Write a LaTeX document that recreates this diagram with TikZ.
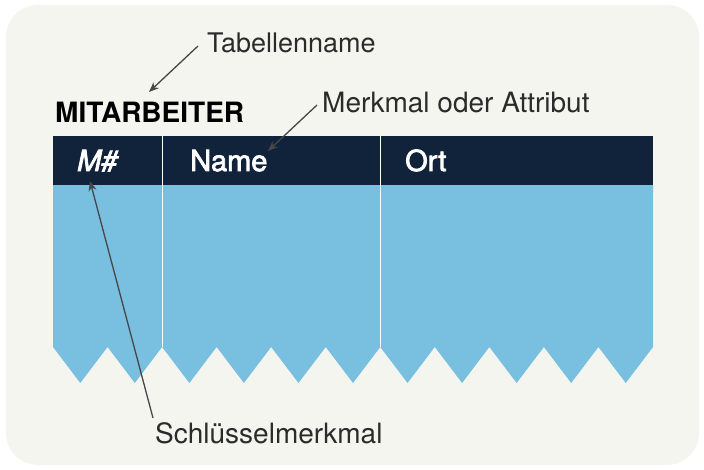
\documentclass[tikz,border=0pt]{standalone}
\usepackage{fontspec}
\setmainfont{TeX Gyre Heros}
\newfontfamily\medfont{TeX Gyre Heros}[FakeBold=2.5]
\usetikzlibrary{arrows.meta}
\definecolor{bgpanel}{HTML}{F5F5F0}
\definecolor{navy}{HTML}{10233A}
\definecolor{skyb}{HTML}{78BFE0}
\definecolor{labelc}{HTML}{2B2B2B}
\definecolor{linec}{HTML}{474747}
\tikzset{
  lbl/.style={anchor=base west, inner sep=0pt, text=labelc, font=\fontsize{28}{30}\selectfont},
  hdr/.style={anchor=base west, inner sep=0pt, text=white, font=\medfont\fontsize{29}{32}\selectfont},
  ttl/.style={anchor=base west, inner sep=0pt, text=black, font=\fontsize{28}{30}\selectfont\bfseries},
  arr/.style={draw=linec, line width=1.3pt, -{Stealth[length=10pt,width=8pt]}},
  sep/.style={draw=white, line width=1.6pt}
}
\begin{document}
\begin{tikzpicture}[x=1pt,y=-1pt]
\useasboundingbox (0,0) rectangle (704,470);
\fill[white] (0,0) rectangle (704,470);
\fill[bgpanel, rounded corners=32pt] (6,5) rectangle (699,465);
% body with zigzag
\fill[skyb] (53,185) -- (653,185) -- (653,347)
  \foreach \i in {0,...,10} { -- ({653-27.2727*(2*\i+1)},383) -- ({653-27.2727*(2*\i+2)},347) } -- cycle;
% header
\fill[navy] (53,136) rectangle (653,185);
% separators
\draw[sep] (162.5,136) -- (162.5,347);
\draw[sep] (380.5,136) -- (380.5,347);
% texts
\node[ttl] (title) at (55,123) {MITARBEITER};
\node[lbl, font=\fontsize{27}{30}\selectfont] (tab) at (207,53) {Tabellenname};
\node[lbl] (attr) at (322,113) {Merkmal oder Attribut};
\node[lbl] (key) at (155,443) {Schlüsselmerkmal};
\node[hdr] (mcol) at (77,171) {\itshape M\#};
\node[hdr] (ncol) at (190,171) {Name};
\node[hdr] (ocol) at (405,171) {Ort};
% arrows
\coordinate (tabs) at (198,46);
\coordinate (tabe) at (149,92);
\coordinate (attrs) at (317,105);
\coordinate (attre) at (268,151);
\coordinate (keys) at (153,418);
\coordinate (keye) at (90,181);
\draw[arr] (tabs) -- (tabe);
\draw[arr] (attrs) -- (attre);
\draw[arr] (keys) -- (keye);
\end{tikzpicture}
\end{document}
